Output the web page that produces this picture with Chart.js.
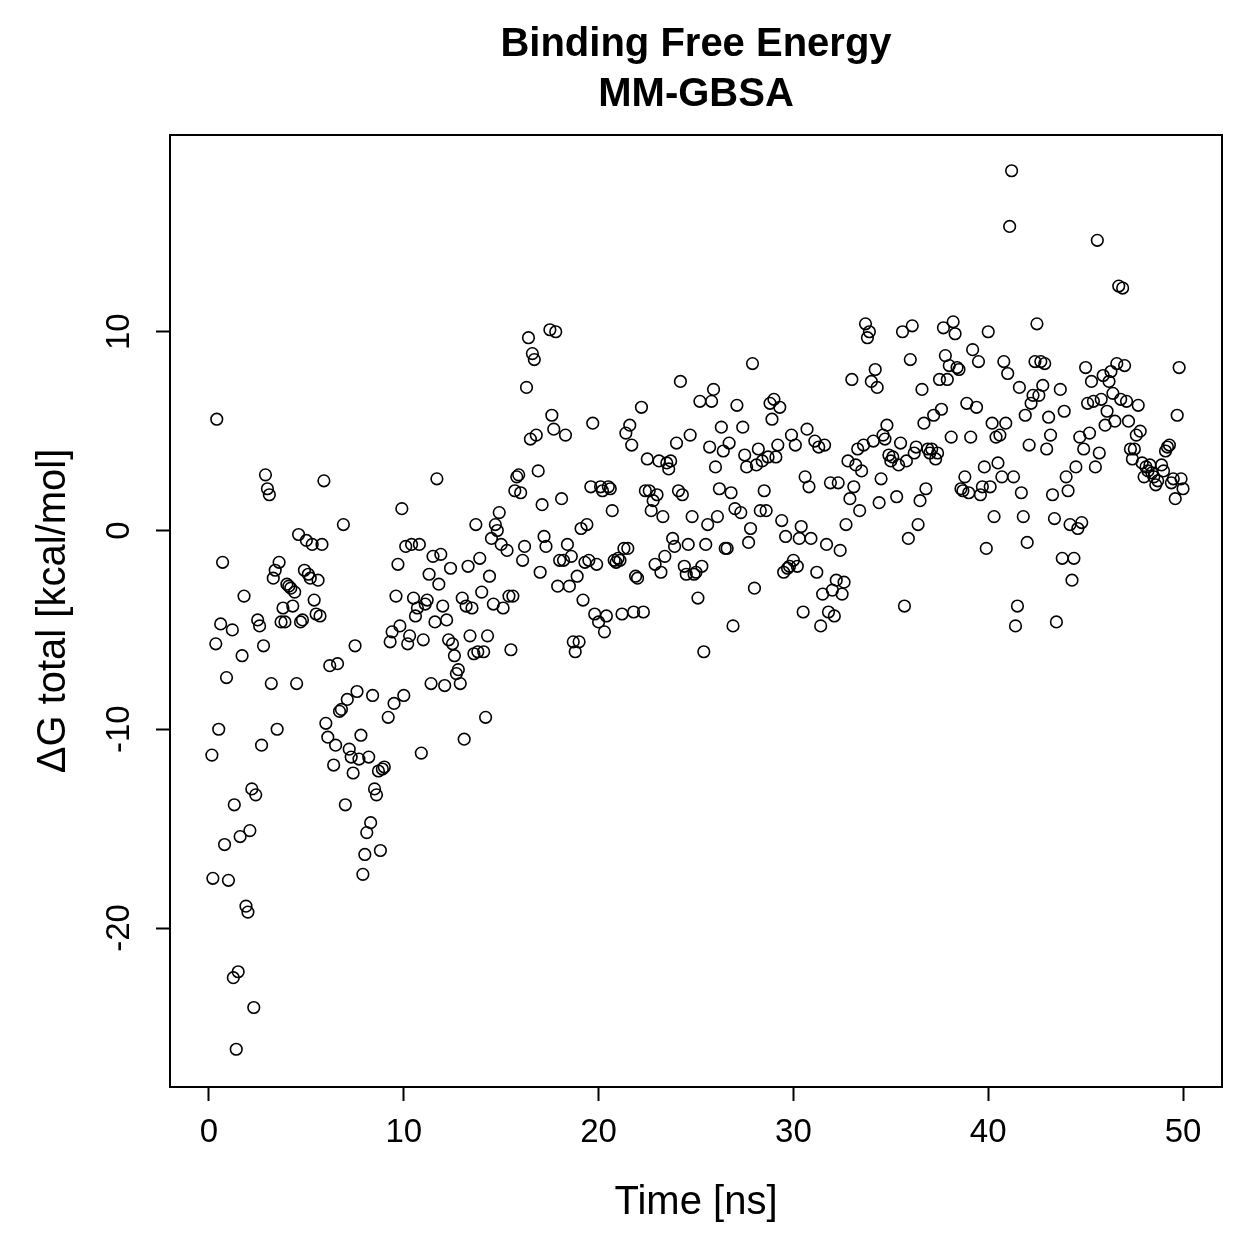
<!DOCTYPE html>
<html>
<head>
<meta charset="utf-8">
<script src="https://cdn.jsdelivr.net/npm/chart.js@4.4.1/dist/chart.umd.min.js"></script>
<style>
html,body{margin:0;padding:0;background:#fff;}
#wrap{width:1259px;height:1259px;}
</style>
</head>
<body>
<div id="wrap"><canvas id="c" width="1259" height="1259"></canvas></div>
<script>
const titleLines = ['Binding Free Energy', 'MM-GBSA'];
const xTitle = 'Time [ns]';
const yTitle = 'ΔG total [kcal/mol]';
const xTicks = [0, 10, 20, 30, 40, 50];
const yTicks = [-20, -10, 0, 10];

const timeNs = [
0.15,0.2,0.35,0.4,0.5,0.6,0.7,0.8,0.9,1.0,
1.2,1.25,1.3,1.4,1.5,1.6,1.7,1.8,1.9,2.0,
2.1,2.2,2.3,2.4,2.5,2.6,2.7,2.8,2.9,3.0,
3.1,3.2,3.3,3.4,3.5,3.6,3.7,3.8,3.9,4.0,
4.1,4.2,4.3,4.4,4.5,4.6,4.7,4.8,4.9,5.0,
5.1,5.2,5.3,5.4,5.5,5.6,5.7,5.8,5.9,6.0,
6.1,6.2,6.4,6.5,6.6,6.7,6.8,6.9,7.0,7.1,
7.2,7.3,7.4,7.5,7.6,7.7,7.8,7.9,8.0,8.1,
8.2,8.3,8.4,8.5,8.6,8.7,8.8,8.9,9.0,9.2,
9.3,9.4,9.5,9.6,9.7,9.8,9.9,10.0,10.1,10.2,
10.3,10.4,10.5,10.6,10.7,10.8,10.9,11.0,11.1,11.2,
11.3,11.4,11.5,11.6,11.7,11.8,11.9,12.0,12.1,12.2,
12.3,12.4,12.5,12.6,12.7,12.8,12.9,13.0,13.1,13.2,
13.3,13.4,13.5,13.6,13.7,13.8,13.9,14.0,14.1,14.2,
14.3,14.4,14.5,14.6,14.7,14.8,14.9,15.0,15.1,15.3,
15.4,15.5,15.6,15.7,15.8,15.9,16.0,16.1,16.2,16.3,
16.4,16.5,16.6,16.7,16.8,16.9,17.0,17.1,17.2,17.3,
17.5,17.6,17.7,17.8,17.9,18.0,18.1,18.2,18.3,18.4,
18.5,18.6,18.7,18.8,18.9,19.0,19.1,19.2,19.3,19.4,
19.5,19.6,19.7,19.8,19.9,20.0,20.1,20.2,20.3,20.4,
20.5,20.6,20.7,20.8,20.9,21.0,21.1,21.2,21.3,21.4,
21.5,21.6,21.7,21.8,21.9,22.0,22.2,22.3,22.4,22.5,
22.6,22.7,22.8,22.9,23.0,23.1,23.2,23.3,23.4,23.5,
23.6,23.7,23.8,23.9,24.0,24.1,24.2,24.3,24.4,24.5,
24.6,24.7,24.8,24.9,25.0,25.1,25.2,25.3,25.4,25.5,
25.6,25.7,25.8,25.9,26.0,26.1,26.2,26.3,26.4,26.5,
26.6,26.7,26.8,26.9,27.0,27.1,27.3,27.4,27.5,27.6,
27.7,27.8,27.9,28.0,28.1,28.2,28.3,28.4,28.5,28.6,
28.7,28.8,28.9,29.0,29.1,29.2,29.3,29.4,29.5,29.6,
29.7,29.8,29.9,30.0,30.1,30.2,30.3,30.4,30.5,30.6,
30.7,30.8,30.9,31.1,31.2,31.3,31.4,31.5,31.6,31.7,
31.8,31.9,32.0,32.1,32.2,32.3,32.4,32.5,32.6,32.7,
32.8,32.9,33.0,33.1,33.2,33.3,33.4,33.5,33.6,33.7,
33.8,33.9,34.0,34.1,34.2,34.3,34.4,34.5,34.6,34.7,
34.8,34.9,35.0,35.1,35.3,35.4,35.5,35.6,35.7,35.8,
35.9,36.0,36.1,36.2,36.3,36.4,36.5,36.6,36.7,36.8,
36.9,37.0,37.1,37.2,37.3,37.4,37.5,37.6,37.7,37.8,
37.9,38.0,38.1,38.2,38.3,38.4,38.5,38.6,38.7,38.8,
38.9,39.0,39.1,39.2,39.4,39.5,39.6,39.7,39.8,39.9,
40.0,40.1,40.2,40.3,40.4,40.5,40.6,40.7,40.8,40.9,
41.0,41.1,41.2,41.3,41.4,41.5,41.6,41.7,41.8,41.9,
42.0,42.1,42.2,42.3,42.4,42.5,42.6,42.7,42.8,42.9,
43.0,43.1,43.2,43.3,43.4,43.5,43.7,43.8,43.9,44.0,
44.1,44.2,44.3,44.4,44.5,44.6,44.7,44.8,44.9,45.0,
45.1,45.2,45.3,45.4,45.5,45.6,45.7,45.8,45.9,46.0,
46.1,46.2,46.3,46.4,46.5,46.6,46.7,46.8,46.9,47.0,
47.1,47.2,47.3,47.4,47.5,47.6,47.7,47.8,47.9,48.0,
48.1,48.2,48.3,48.4,48.5,48.6,48.7,48.9,49.0,49.1,
49.2,49.3,49.4,49.5,49.6,49.7,49.8,49.9,50.0
];

const deltaG = [
-11.3,-17.5,-5.7,5.6,-10.0,-4.7,-1.6,-15.8,-7.4,-17.6,
-5.0,-22.5,-13.8,-26.1,-22.2,-15.4,-6.3,-3.3,-18.9,-19.2,
-15.1,-13.0,-24.0,-13.3,-4.5,-4.8,-10.8,-5.8,2.8,2.1,
1.8,-7.7,-2.4,-2.0,-10.0,-1.6,-4.6,-3.9,-4.6,-2.7,
-2.8,-2.9,-3.8,-3.1,-7.7,-0.2,-4.6,-4.5,-2.0,-0.5,
-2.2,-2.4,-0.7,-3.5,-4.2,-2.5,-4.3,-0.7,2.5,-9.7,
-10.4,-6.8,-11.8,-10.8,-6.7,-9.1,-9.0,0.3,-13.8,-8.5,
-11.0,-11.4,-12.2,-5.8,-8.1,-11.5,-10.3,-17.3,-16.3,-15.2,
-11.4,-14.7,-8.3,-13.0,-13.3,-12.1,-16.1,-12.0,-11.9,-9.4,
-5.6,-5.1,-8.7,-3.3,-1.7,-4.8,1.1,-8.3,-0.8,-5.7,
-5.3,-0.7,-3.4,-4.3,-3.9,-0.7,-11.2,-5.5,-3.7,-3.5,
-2.2,-7.7,-1.3,-4.6,2.6,-2.7,-1.2,-3.8,-7.8,-4.5,
-5.5,-1.9,-5.7,-6.3,-7.2,-7.0,-7.7,-3.4,-10.5,-3.8,
-1.8,-5.3,-3.9,-6.2,0.3,-6.1,-1.4,-3.1,-6.1,-9.4,
-5.3,-2.3,-0.4,-3.7,0.3,0.0,0.9,-0.7,-3.9,-1.0,
-3.3,-6.0,-3.3,2.0,2.7,2.8,1.9,-1.5,-0.8,7.2,
9.7,4.6,8.9,8.6,4.8,3.0,-2.1,1.3,-0.3,-0.8,
10.1,5.8,5.1,10.0,-2.8,-1.5,1.6,-1.5,4.8,-0.7,
-2.8,-1.3,-5.6,-6.1,-2.3,-5.6,0.1,-3.5,-1.6,0.3,
-1.5,2.2,5.4,-4.2,-1.7,-4.6,2.2,2.0,-5.1,-4.3,
2.2,2.1,1.0,-1.5,-1.6,-1.4,-1.5,-4.2,-0.9,4.9,
-0.9,5.3,4.3,-4.1,-2.3,-2.4,6.2,-4.1,2.0,3.6,
2.0,1.0,1.5,-1.7,1.8,3.5,-2.1,0.7,-1.3,3.4,
3.1,3.5,-0.4,-0.8,4.4,2.0,7.5,1.8,-1.8,-2.2,
-0.7,4.8,0.7,-2.2,-2.1,-3.4,6.5,-1.8,-6.1,-0.7,
0.3,4.2,6.5,7.1,3.2,0.7,2.1,5.2,4.0,-0.9,
-0.9,4.4,1.9,-4.8,1.1,6.3,0.9,5.2,3.8,3.2,
-0.6,0.1,8.4,-2.9,3.3,4.1,1.0,3.5,2.0,1.0,
3.7,6.4,5.6,6.6,3.7,4.3,6.2,0.5,-2.1,-0.3,
-1.9,-1.8,4.8,-1.5,4.3,-1.8,-0.4,0.2,-4.1,2.7,
5.1,2.2,-0.4,4.5,-2.1,4.2,-4.8,-3.2,4.3,-0.7,
-4.1,2.4,-3.0,-4.3,-2.5,2.4,-1.0,-3.2,-2.6,0.3,
3.5,1.6,7.6,2.2,3.3,4.1,1.0,3.0,4.3,10.4,
9.7,10.0,7.5,4.5,8.1,7.2,1.4,2.6,4.8,4.6,
5.3,3.8,3.5,3.7,1.7,3.3,4.4,10.0,-3.8,3.5,
-0.4,8.6,10.3,3.9,4.2,0.3,1.5,7.1,5.4,2.1,
4.1,3.9,4.1,5.8,3.6,3.9,7.6,6.1,10.2,8.8,
7.6,8.3,4.7,10.5,9.9,8.2,8.1,2.1,2.0,2.7,
6.4,1.9,4.7,9.1,6.2,8.5,1.8,2.2,3.2,-0.9,
10.0,2.2,5.4,0.7,4.7,3.4,4.8,2.7,8.5,5.4,
7.9,15.3,18.1,2.7,-4.8,-3.8,7.2,1.9,0.7,5.8,
-0.6,4.3,6.4,6.8,8.5,10.4,6.8,8.5,7.3,8.4,
4.1,5.7,4.8,1.8,0.6,-4.6,7.1,-1.4,6.0,2.7,
2.0,0.3,-2.5,-1.4,3.2,0.1,4.7,0.4,4.1,8.2,
6.4,4.9,7.5,6.5,3.2,14.6,3.9,6.6,7.8,5.3,
6.0,7.5,8.0,6.9,5.5,8.4,12.3,6.6,12.2,8.3,
6.5,5.5,4.1,3.6,4.1,4.8,6.3,5.0,3.4,2.7,
3.2,3.0,3.3,2.9,2.7,2.3,2.5,3.3,3.0,4.0,
4.2,4.3,2.4,2.6,1.6,5.8,8.2,2.6,2.1
];

const FONT = "'Liberation Sans', Arial, Helvetica, sans-serif";
const points = timeNs.map((t, i) => ({x: t, y: deltaG[i]}));

const framePlugin = {
  id: 'frame',
  afterDraw(chart) {
    const {ctx, chartArea: a} = chart;
    ctx.save();
    ctx.strokeStyle = '#000';
    ctx.lineWidth = 2;
    ctx.strokeRect(a.left, a.top, a.right - a.left, a.bottom - a.top);
    ctx.restore();
  }
};

new Chart(document.getElementById('c'), {
  type: 'scatter',
  data: {
    datasets: [{
      data: points,
      pointStyle: 'circle',
      pointRadius: 5.8,
      pointHoverRadius: 5.8,
      borderColor: '#000',
      backgroundColor: 'rgba(0,0,0,0)',
      borderWidth: 1.6
    }]
  },
  options: {
    responsive: false,
    animation: false,
    devicePixelRatio: 1,
    layout: {padding: {left: 0, right: 37, top: 0, bottom: 0}},
    plugins: {
      legend: {display: false},
      tooltip: {enabled: false},
      title: {
        display: true,
        text: titleLines,
        fullSize: false,
        color: '#000',
        font: {family: FONT, size: 40, weight: 'bold', lineHeight: 1.25},
        padding: {top: 20, bottom: 15}
      }
    },
    scales: {
      x: {
        type: 'linear',
        min: -2, max: 52,
        afterBuildTicks: s => { s.ticks = xTicks.map(v => ({value: v})); },
        afterFit: s => { s.height = 172; },
        grid: {display: true, drawOnChartArea: false, drawTicks: true, tickLength: 14, tickColor: '#000', tickWidth: 2, color: '#000'},
        border: {display: false},
        ticks: {color: '#000', font: {family: FONT, size: 33}, padding: 12, maxRotation: 0, minRotation: 0},
        title: {display: true, text: xTitle, color: '#000', font: {family: FONT, size: 40}, padding: {top: 0, bottom: 32}}
      },
      y: {
        type: 'linear',
        min: -28, max: 19.9,
        afterBuildTicks: s => { s.ticks = yTicks.map(v => ({value: v})); },
        afterFit: s => { s.width = 170; },
        grid: {display: true, drawOnChartArea: false, drawTicks: true, tickLength: 14, tickColor: '#000', tickWidth: 2, color: '#000'},
        border: {display: false},
        ticks: {color: '#000', font: {family: FONT, size: 33}, padding: 12, minRotation: 90, maxRotation: 90, crossAlign: 'center'},
        title: {display: true, text: yTitle, color: '#000', font: {family: FONT, size: 40}, padding: {top: 30, bottom: 0}}
      }
    }
  },
  plugins: [framePlugin]
});
</script>
</body>
</html>
